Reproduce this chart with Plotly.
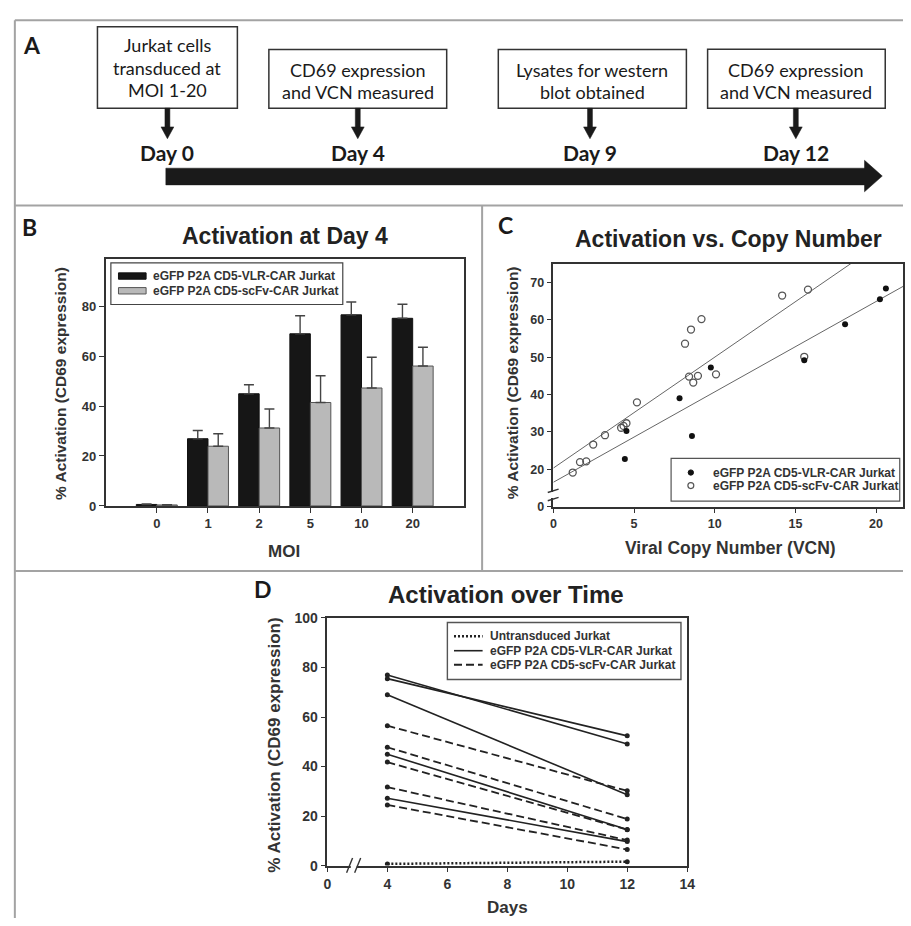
import plotly.graph_objects as go
import numpy as np

W, H = 911, 926

def X(px):
    return px / W

def Y(py):
    return 1 - py / H

# ---------------- Data ----------------
# Panel B: activation at day 4
moi_labels = ["0", "1", "2", "5", "10", "20"]
vlr_mean = [0.6, 26.9, 44.9, 68.9, 76.5, 75.1]
vlr_err = [0.2, 3.3, 3.6, 7.2, 5.1, 5.6]
scfv_mean = [0.4, 23.9, 31.2, 41.4, 47.2, 56.0]
scfv_err = [0.1, 5.0, 7.6, 10.7, 12.3, 7.5]

# Panel C: activation vs copy number
vlr_vcn = [4.43, 4.53, 7.82, 8.59, 9.76, 15.55, 18.08, 20.24, 20.61]
vlr_act = [22.7, 30.2, 39.0, 28.9, 47.2, 49.2, 58.8, 65.5, 68.4]
scfv_vcn = [1.2, 1.65, 2.04, 2.47, 3.2, 4.2, 4.35, 4.53, 5.18, 8.16, 8.53, 9.18,
            8.41, 8.67, 8.96, 10.08, 14.18, 15.78, 15.55]
scfv_act = [19.1, 21.9, 22.1, 26.6, 29.1, 31.1, 31.6, 32.3, 37.9, 53.6, 57.4, 60.2,
            44.8, 43.2, 45.0, 45.4, 66.5, 68.1, 50.1]
vlr_fit = (16.5, 2.42)    # intercept, slope
scfv_fit = (20.3, 2.97)
fit_x = [0, 22]

# Panel D: activation over time
days = [4, 12]
vlr_d4 = [77.0, 75.5, 69.0, 45.0, 27.2]
vlr_d12 = [49.1, 52.4, 28.6, 14.6, 9.7]
scfv_d4 = [56.5, 47.8, 41.8, 31.7, 24.5]
scfv_d12 = [30.2, 18.8, 14.5, 10.3, 6.5]
untr = [0.7, 1.6]

legend_names = ["eGFP P2A CD5-VLR-CAR Jurkat", "eGFP P2A CD5-scFv-CAR Jurkat"]

# ---------------- Styles ----------------
AX = "Liberation Sans, Arial, sans-serif"
CAL = "Lato, Carlito, sans-serif"
TXT = "#333333"

fig = go.Figure()

# Panel B bars
xi = list(range(len(moi_labels)))
fig.add_trace(go.Bar(x=xi, y=vlr_mean, name=legend_names[0], xaxis="x", yaxis="y",
                     marker=dict(color="#161616", line=dict(color="#111", width=1)),
                     error_y=dict(type="data", array=vlr_err, arrayminus=[0] * 6, symmetric=False,
                                  color="#444", thickness=1.4, width=5),
                     showlegend=False))
fig.add_trace(go.Bar(x=xi, y=scfv_mean, name=legend_names[1], xaxis="x", yaxis="y",
                     marker=dict(color="#b9b9b9", line=dict(color="#555", width=1)),
                     error_y=dict(type="data", array=scfv_err, arrayminus=[0] * 6, symmetric=False,
                                  color="#444", thickness=1.4, width=5),
                     showlegend=False))

# Panel C scatter + fits
fx = np.array(fit_x, dtype=float)
fig.add_trace(go.Scatter(x=fx, y=scfv_fit[0] + scfv_fit[1] * fx, mode="lines", xaxis="x2", yaxis="y2",
                         line=dict(color="#666", width=1), showlegend=False))
fig.add_trace(go.Scatter(x=fx, y=vlr_fit[0] + vlr_fit[1] * fx, mode="lines", xaxis="x2", yaxis="y2",
                         line=dict(color="#666", width=1), showlegend=False))
fig.add_trace(go.Scatter(x=scfv_vcn, y=scfv_act, mode="markers", xaxis="x2", yaxis="y2",
                         marker=dict(symbol="circle-open", size=7, color="#555", line=dict(width=1.3)),
                         showlegend=False))
fig.add_trace(go.Scatter(x=vlr_vcn, y=vlr_act, mode="markers", xaxis="x2", yaxis="y2",
                         marker=dict(symbol="circle", size=6, color="#111"), showlegend=False))

# Panel D lines
for a, b in zip(scfv_d4, scfv_d12):
    fig.add_trace(go.Scatter(x=days, y=[a, b], mode="lines+markers", xaxis="x3", yaxis="y3",
                             line=dict(color="#222", width=1.8, dash="8px,4px"),
                             marker=dict(size=5, color="#222"), showlegend=False))
for a, b in zip(vlr_d4, vlr_d12):
    fig.add_trace(go.Scatter(x=days, y=[a, b], mode="lines+markers", xaxis="x3", yaxis="y3",
                             line=dict(color="#222", width=1.6),
                             marker=dict(size=5, color="#222"), showlegend=False))
fig.add_trace(go.Scatter(x=days, y=untr, mode="lines+markers", xaxis="x3", yaxis="y3",
                         line=dict(color="#222", width=2.5, dash="2px,2px"),
                         marker=dict(size=5, color="#222"), showlegend=False))

# ---------------- Axes ----------------
axcommon = dict(showline=True, mirror=True, linecolor="#333", linewidth=1.5, ticks="outside",
                ticklen=5, tickcolor="#333", tickwidth=1.2, showgrid=False, zeroline=False,
                tickfont=dict(family=AX, size=13, color=TXT, weight="bold"))

fig.update_layout(
    width=W, height=H, margin=dict(l=0, r=0, t=0, b=0),
    paper_bgcolor="white", plot_bgcolor="white",
    barmode="group", bargap=0.2, bargroupgap=0,
    xaxis=dict(domain=[X(103), X(466)], range=[-1, 6], tickvals=xi, ticktext=moi_labels,
               anchor="y", **axcommon),
    yaxis=dict(domain=[Y(506.7), Y(255)], range=[0, 99], tickvals=[0, 20, 40, 60, 80],
               anchor="x", **axcommon),
    xaxis2=dict(domain=[X(556.7), 1.0], range=[0, 21.67], tickvals=[0, 5, 10, 15, 20],
                anchor="y2", **{**axcommon, "tickfont": dict(family=AX, size=12.5, color=TXT, weight="bold")}),
    yaxis2=dict(domain=[Y(507.3), Y(260)], range=[10, 75.08], tickvals=[10, 20, 30, 40, 50, 60, 70],
                ticktext=["0", "20", "30", "40", "50", "60", "70"],
                anchor="x2", **{**axcommon, "tickfont": dict(family=AX, size=12.5, color=TXT, weight="bold")}),
    xaxis3=dict(domain=[X(327.7), X(692.3)], range=[2, 14], tickvals=[2, 4, 6, 8, 10, 12, 14],
                ticktext=["0", "4", "6", "8", "10", "12", "14"],
                anchor="y3", **{**axcommon, "tickfont": dict(family=AX, size=14, color=TXT, weight="bold")}),
    yaxis3=dict(domain=[Y(872.7), Y(620.7)], range=[0, 100], tickvals=[0, 20, 40, 60, 80, 100],
                anchor="x3", **{**axcommon, "tickfont": dict(family=AX, size=14, color=TXT, weight="bold")}),
)

# ---------------- Shapes ----------------
shapes = []

def pline(x0, y0, x1, y1, color="#333", width=1.5, dash=None):
    shapes.append(dict(type="line", xref="paper", yref="paper", x0=X(x0), y0=Y(y0), x1=X(x1), y1=Y(y1),
                       line=dict(color=color, width=width, dash=dash)))

def prect(x0, y0, x1, y1, fill="white", color="#333", width=1.5):
    shapes.append(dict(type="rect", xref="paper", yref="paper", x0=X(x0), y0=Y(y1), x1=X(x1), y1=Y(y0),
                       fillcolor=fill, line=dict(color=color, width=width)))

def ppath(pts, fill="#1a1a1a"):
    d = "M " + " L ".join(f"{X(a):.5f},{Y(b):.5f}" for a, b in pts) + " Z"
    shapes.append(dict(type="path", xref="paper", yref="paper", path=d, fillcolor=fill,
                       line=dict(color=fill, width=0.5)))

# figure frame / separators
BC = "#a3a3a3"
pline(11, 12.5, 911, 12.5, BC, 2)
pline(11, 12.5, 11, 926, BC, 2)
pline(11, 201, 911, 201, BC, 2)
pline(484.5, 201, 484.5, 573, BC, 2)
pline(11, 573, 911, 573, BC, 2)

# Panel A timeline
boxes = [(94.7, 19, 236.5, 102), (268.4, 42.3, 448.6, 102), (500.9, 42.3, 691.5, 102), (713, 42, 893, 102)]
for b in boxes:
    prect(*b, fill="white", color="#333", width=1.5)
for ax_ in [165.6, 358.5, 593.8, 802.4]:
    prect(ax_ - 2.5, 102, ax_ + 2.5, 123, fill="#1a1a1a", color="#1a1a1a", width=0.5)
    ppath([(ax_ - 6.5, 121), (ax_ + 6.5, 121), (ax_, 133)])
prect(164, 163, 873, 180, fill="#1a1a1a", color="#1a1a1a", width=0.5)
ppath([(872, 155), (872, 187), (890, 171)])

# Panel B legend
prect(108.3, 259.3, 343.3, 301.7, fill="white", color="#444", width=1.2)
prect(116, 269.5, 144, 276, fill="#161616", color="#111", width=1)
prect(116, 284.5, 144, 291, fill="#b9b9b9", color="#555", width=1)

# Panel C legend
prect(676, 458.3, 907.7, 501.7, fill="white", color="#555", width=1.2)
shapes.append(dict(type="circle", xref="paper", yref="paper", x0=X(693.3), x1=X(698.7), y0=Y(475.4), y1=Y(470),
                   fillcolor="#111", line=dict(color="#111", width=1)))
shapes.append(dict(type="circle", xref="paper", yref="paper", x0=X(693), x1=X(699), y0=Y(489), y1=Y(483),
                   fillcolor="white", line=dict(color="#555", width=1.2)))

# Panel D legend
prect(449.3, 625.3, 686, 683.3, fill="white", color="#555", width=1.4)
pline(456, 639.3, 485, 639.3, "#222", 2.5, "2px,2px")
pline(456, 654, 485, 654, "#222", 1.6)
pline(456, 668.3, 485, 668.3, "#222", 1.8, "8px,4px")

# axis breaks
# C: y-axis break
shapes.append(dict(type="rect", xref="paper", yref="y2", x0=X(554), x1=X(560), y0=12.3, y1=13.9,
                   fillcolor="white", line=dict(width=0)))
for yb in [12.0, 14.2]:
    shapes.append(dict(type="line", xref="paper", yref="y2", x0=X(551), x1=X(562), y0=yb - 0.45, y1=yb + 0.45,
                       line=dict(color="#333", width=1.4)))
# D: x-axis break
shapes.append(dict(type="rect", xref="x3", yref="paper", x0=2.78, x1=2.98, y0=Y(875), y1=Y(870.5),
                   fillcolor="white", line=dict(width=0)))
for xb in [2.74, 3.01]:
    shapes.append(dict(type="line", xref="x3", yref="paper", x0=xb - 0.1, x1=xb + 0.1, y0=Y(880), y1=Y(865),
                       line=dict(color="#333", width=1.4)))

fig.update_layout(shapes=shapes)

# ---------------- Annotations ----------------
ann = []

def text(x, y, s, size, family=AX, weight="bold", color=TXT, xanchor="center", angle=0):
    ann.append(dict(x=X(x), y=Y(y), xref="paper", yref="paper", text=s, showarrow=False,
                    xanchor=xanchor, yanchor="middle", textangle=angle,
                    font=dict(family=family, size=size, color=color, weight=weight)))

# panel letters
text(28, 38, "A", 23, CAL, "bold", "#1a1a1a")
text(26, 223, "B", 23, CAL, "bold", "#1a1a1a")
text(508, 221, "C", 23, CAL, "bold", "#1a1a1a")
text(262, 591, "D", 23, CAL, "bold", "#1a1a1a")

# panel A texts
box_lines = [
    (165.6, [(37.3, "Jurkat cells"), (61.3, "transduced at"), (83.5, "MOI 1-20")]),
    (358.5, [(63.3, "CD69 expression"), (85.3, "and VCN measured")]),
    (596.2, [(63.3, "Lysates for western"), (85.3, "blot obtained")]),
    (803.0, [(63.3, "CD69 expression"), (85.3, "and VCN measured")]),
]
for cx, lines in box_lines:
    for yy, s in lines:
        text(cx, yy, s, 18, CAL, "normal", "#1a1a1a")
for cx, s in zip([165.6, 358.5, 593.8, 802.4], ["Day 0", "Day 4", "Day 9", "Day 12"]):
    text(cx, 146.7, s, 21, CAL, "bold", "#1a1a1a")

# titles
text(285, 231.7, "Activation at Day 4", 23, AX, "bold", "#222")
text(734, 235, "Activation vs. Copy Number", 23, AX, "bold", "#222")
text(509, 596.7, "Activation over Time", 24, AX, "bold", "#222")

# axis titles
text(56.7, 381.7, "% Activation (CD69 expression)", 15.5, angle=-90)
text(515, 381.7, "% Activation (CD69 expression)", 15.5, angle=-90)
text(273.3, 750, "% Activation (CD69 expression)", 17, angle=-90)
text(283.3, 553.3, "MOI", 17)
text(735.8, 550, "Viral Copy Number (VCN)", 17.5)
text(510, 915, "Days", 17)

# legends text
text(149.3, 272.7, legend_names[0], 12, xanchor="left")
text(149.3, 287.7, legend_names[1], 12, xanchor="left")
text(716.7, 472.7, legend_names[0], 12, xanchor="left")
text(716.7, 486.0, legend_names[1], 12, xanchor="left")
text(490.7, 639.3, "Untransduced Jurkat", 12, xanchor="left")
text(490.7, 654.0, legend_names[0], 12, xanchor="left")
text(490.7, 668.3, legend_names[1], 12, xanchor="left")

fig.update_layout(annotations=ann)

fig.write_html("out.html", config={"displayModeBar": False},
               post_script="document.body.style.margin='0';document.body.style.overflow='hidden';")
